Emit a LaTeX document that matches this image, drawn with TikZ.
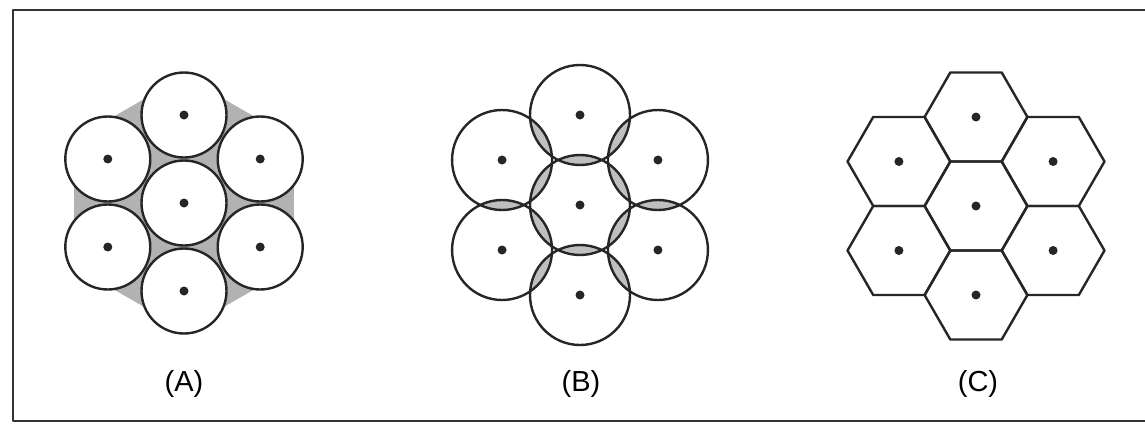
\documentclass[tikz,border=0pt]{standalone}
\usepackage{fontspec}
\setmainfont{Liberation Sans}

\begin{document}
\begin{tikzpicture}[x=1pt, y=-1pt, line cap=round, line join=round,
    cella/.style={draw=black!85, line width=2.4pt},
    centro/.style={fill=black!85},
    etichetta/.style={font=\fontsize{29}{30}\selectfont}]

    \useasboundingbox (0,0) rectangle (1145,423);

    % Cornice
    \draw[black!80, line width=2.8pt] (1145,10) -- (13,10) -- (13,421) -- (1145,421);

    % (A) cerchi tangenti
    \fill[gray!60] (184,203) +(30:127) -- +(90:127) -- +(150:127)
        -- +(210:127) -- +(270:127) -- +(330:127) -- cycle;
    \foreach \a/\d in {0/0, 30/88, 90/88, 150/88, 210/88, 270/88, 330/88} {
        \filldraw[cella, fill=white] (184,203) ++(\a:\d) circle (42.5pt);
        \fill[centro] (184,203) ++(\a:\d) circle (4.5pt);
    }

    % (B) cerchi sovrapposti
    \foreach \a in {30,90,...,330} {
        \begin{scope}
            \clip (580,205) circle (50pt);
            \fill[gray!50] (580,205) ++(\a:90) circle (50pt);
        \end{scope}
        \begin{scope}
            \clip (580,205) ++(\a:90) circle (50pt);
            \fill[gray!50] (580,205) ++(\a+60:90) circle (50pt);
        \end{scope}
    }
    \foreach \a/\d in {0/0, 30/90, 90/90, 150/90, 210/90, 270/90, 330/90} {
        \draw[cella] (580,205) ++(\a:\d) circle (50pt);
        \fill[centro] (580,205) ++(\a:\d) circle (4.5pt);
    }

    % (C) celle esagonali
    \foreach \a/\d in {0/0, 30/89, 90/89, 150/89, 210/89, 270/89, 330/89} {
        \draw[cella] (976,206) ++(\a:\d) +(0:51.4) -- +(60:51.4) -- +(120:51.4)
            -- +(180:51.4) -- +(240:51.4) -- +(300:51.4) -- cycle;
        \fill[centro] (976,206) ++(\a:\d) circle (4.5pt);
    }

    % Etichette
    \node[etichetta] (labA) at (184,384) {(A)};
    \node[etichetta] (labB) at (581,384) {(B)};
    \node[etichetta] (labC) at (978,384) {(C)};

\end{tikzpicture}
\end{document}
